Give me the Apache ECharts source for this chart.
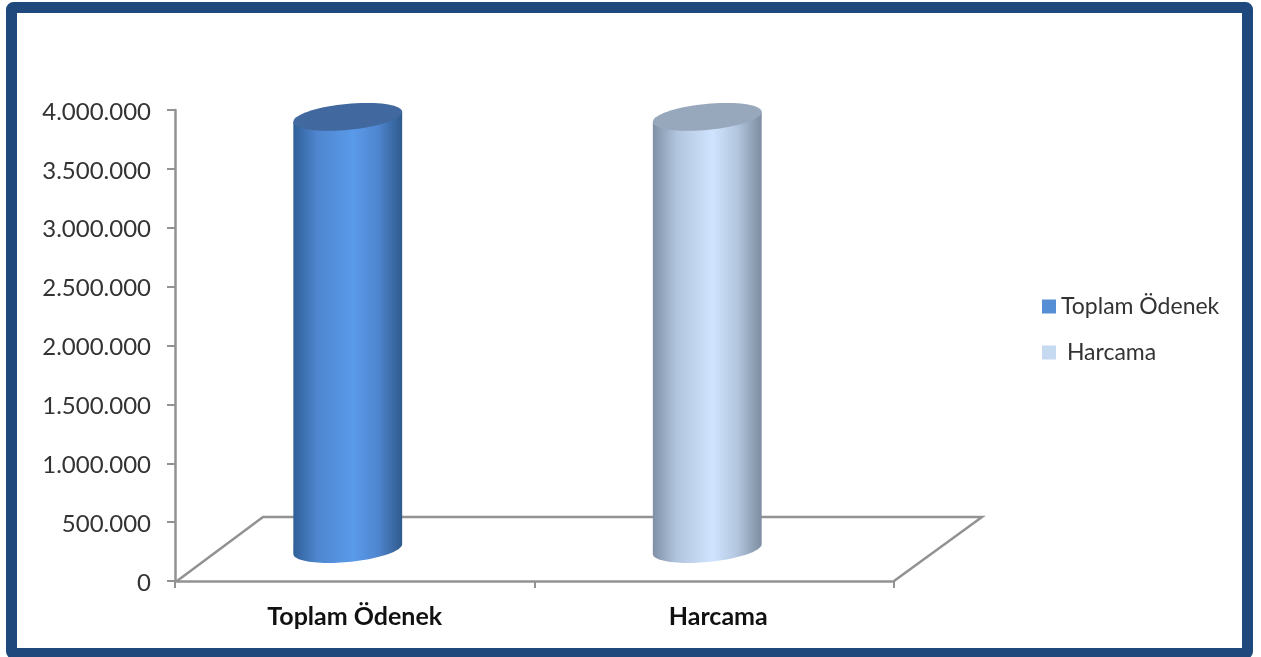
<!DOCTYPE html>
<html>
<head>
<meta charset="utf-8">
<style>html,body{margin:0;padding:0;background:#fff}#c{width:1261px;height:657px}</style>
<script src="https://cdn.jsdelivr.net/npm/echarts@6/dist/echarts.min.js"></script>
</head>
<body>
<div id="c"></div>
<script>
var categories = ['Toplam Ödenek', 'Harcama'];
var toplamOdenek = [3670000];
var harcama = [3670000];
var seriesNames = ['Toplam Ödenek', 'Harcama'];
var tickValues = [0, 500000, 1000000, 1500000, 2000000, 2500000, 3000000, 3500000, 4000000];
var tickLabels = ['0', '500.000', '1.000.000', '1.500.000', '2.000.000', '2.500.000', '3.000.000', '3.500.000', '4.000.000'];

var depthX = 88, depthY = 64;
var barShiftX = -7, barLiftY = 32;
var theta = -5.5 * Math.PI / 180;

function ellipsePoint(cx, cy, a, b, t) {
  return [
    cx + a * Math.cos(t) * Math.cos(theta) - b * Math.sin(t) * Math.sin(theta),
    cy + a * Math.cos(t) * Math.sin(theta) + b * Math.sin(t) * Math.cos(theta)
  ];
}
function cylinder(colors, capColor) {
  return function (params, api) {
    var top = api.coord([api.value(0), api.value(1)]);
    var base = api.coord([api.value(0), 0]);
    var band = api.size([1, 0])[0];
    var a = band * 0.152, b = 13;
    var cx = top[0] + barShiftX;
    var cyTop = top[1] - barLiftY, cyBase = base[1] - barLiftY;
    var t0 = Math.atan2(-b * Math.sin(theta), a * Math.cos(theta));
    var pts = [], i;
    for (i = 0; i <= 48; i++) {
      pts.push(ellipsePoint(cx, cyBase, a, b, t0 + Math.PI * i / 48));
    }
    pts.push(ellipsePoint(cx, cyTop, a, b, t0 + Math.PI));
    pts.push(ellipsePoint(cx, cyTop, a, b, t0));
    var cap = [];
    for (i = 0; i < 72; i++) {
      cap.push(ellipsePoint(cx, cyTop, a, b, 2 * Math.PI * i / 72));
    }
    return {
      type: 'group',
      children: [
        {
          type: 'polygon',
          shape: { points: pts },
          style: {
            fill: new echarts.graphic.LinearGradient(0, 0, 1, 0, [
              { offset: 0, color: colors[0] },
              { offset: 0.22, color: colors[1] },
              { offset: 0.55, color: colors[2] },
              { offset: 0.78, color: colors[1] },
              { offset: 1, color: colors[3] }
            ])
          }
        },
        { type: 'polygon', shape: { points: cap }, style: { fill: capColor } }
      ]
    };
  };
}
function floorItem(params, api) {
  var cs = params.coordSys;
  var x0 = cs.x, x1 = cs.x + cs.width, y = cs.y + cs.height;
  return {
    type: 'polyline',
    shape: { points: [[x0 + 2, y], [x0 + depthX, y - depthY], [x1 + depthX, y - depthY], [x1, y]] },
    style: { stroke: '#929292', lineWidth: 2.5, fill: 'none' }
  };
}

var chart = echarts.init(document.getElementById('c'), null, { renderer: 'canvas' });
chart.setOption({
  animation: false,
  backgroundColor: '#ffffff',
  textStyle: { fontFamily: 'Lato' },
  graphic: [{
    type: 'rect',
    z: 100,
    shape: { x: 11.5, y: 7.5, width: 1236, height: 646, r: 2 },
    style: { fill: 'none', stroke: '#1f497d', lineWidth: 11 }
  }],
  legend: {
    orient: 'vertical',
    left: 1037,
    top: 290,
    itemWidth: 14,
    itemHeight: 14,
    itemGap: 23,
    icon: 'rect',
    data: seriesNames,
    formatter: function (n) { return n === 'Harcama' ? ' Harcama' : n; },
    textStyle: { fontFamily: 'Lato', fontSize: 23, color: '#333333' }
  },
  grid: { left: 175, top: 110, width: 719, height: 471, containLabel: false },
  xAxis: {
    type: 'category',
    data: categories,
    axisLine: { lineStyle: { color: '#929292', width: 2.5 } },
    axisTick: { show: true, length: 7, lineStyle: { color: '#929292', width: 2 } },
    axisLabel: {
      fontFamily: 'Lato', fontWeight: 'bold', fontSize: 25, color: '#111111', margin: 23,
      formatter: function (v) { return v === 'Harcama' ? '{s|' + v + '}' : v; },
      rich: { s: { fontFamily: 'Lato', fontWeight: 'bold', fontSize: 25, color: '#111111', padding: [0, 0, 0, 8] } }
    }
  },
  yAxis: {
    type: 'value',
    min: 0,
    max: 4000000,
    interval: 500000,
    splitLine: { show: false },
    axisLine: { show: true, lineStyle: { color: '#929292', width: 2.5 } },
    axisTick: { show: true, length: 8, lineStyle: { color: '#929292', width: 2 } },
    axisLabel: {
      fontFamily: 'Lato', fontSize: 24, color: '#333333', margin: 24,
      formatter: function (v) { return '{v|' + tickLabels[tickValues.indexOf(v)] + '}'; },
      rich: { v: { fontFamily: 'Lato', fontSize: 24, color: '#333333', padding: [4, 0, 0, 0] } }
    }
  },
  series: [
    {
      type: 'custom', name: 'floor', renderItem: floorItem, silent: true, z: 1,
      data: [[0, 0]], encode: { x: 0, y: 1 }
    },
    {
      type: 'custom', name: seriesNames[0], z: 3,
      itemStyle: { color: '#558ed5' },
      renderItem: cylinder(['#2f5f97', '#4f86cf', '#5a9aea', '#2f5a8c'], '#41699f'),
      data: [[categories[0], toplamOdenek[0]]], encode: { x: 0, y: 1 }
    },
    {
      type: 'custom', name: seriesNames[1], z: 3,
      itemStyle: { color: '#c5d9f1' },
      renderItem: cylinder(['#7f90a6', '#b2c5de', '#d0e4ff', '#7d8da0'], '#98a8bc'),
      data: [[categories[1], harcama[0]]], encode: { x: 0, y: 1 }
    }
  ]
});
</script>
</body>
</html>
